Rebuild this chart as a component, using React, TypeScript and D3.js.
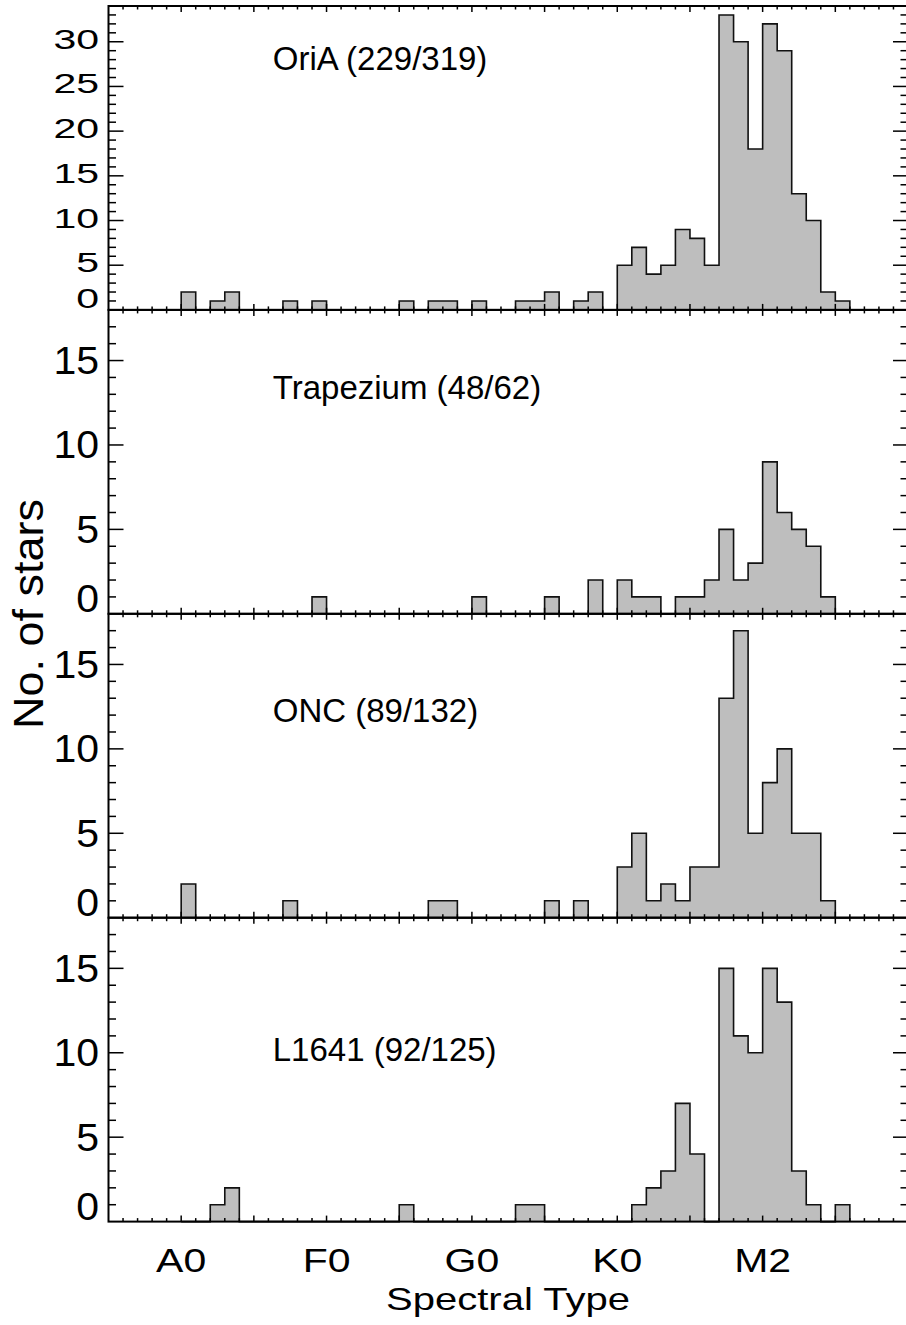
import React from 'react';
import * as d3 from 'd3';

// spectral subtype index: A0 = 0, F0 = 10, G0 = 20, K0 = 30, M0 = 38, M2 = 40
const subtypes = d3.range(0, 46);

const oriA = [2, 0, 1, 2, 0, 0, 0, 1, 0, 1, 0, 0, 0, 0, 0, 1, 0, 1, 1, 0, 1, 0, 0, 1, 1, 2, 0, 1, 2, 0, 5, 7, 4, 5, 9, 8, 5, 33, 30, 18, 32, 29, 13, 10, 2, 1];
const trapezium = [0, 0, 0, 0, 0, 0, 0, 0, 0, 1, 0, 0, 0, 0, 0, 0, 0, 0, 0, 0, 1, 0, 0, 0, 0, 1, 0, 0, 2, 0, 2, 1, 1, 0, 1, 1, 2, 5, 2, 3, 9, 6, 5, 4, 1, 0];
const onc = [2, 0, 0, 0, 0, 0, 0, 1, 0, 0, 0, 0, 0, 0, 0, 0, 0, 1, 1, 0, 0, 0, 0, 0, 0, 1, 0, 1, 0, 0, 3, 5, 1, 2, 1, 3, 3, 13, 17, 5, 8, 10, 5, 5, 1, 0];
const l1641 = [0, 0, 1, 2, 0, 0, 0, 0, 0, 0, 0, 0, 0, 0, 0, 1, 0, 0, 0, 0, 0, 0, 0, 1, 1, 0, 0, 0, 0, 0, 0, 1, 2, 3, 7, 4, 0, 15, 11, 10, 15, 13, 3, 1, 0, 1];

const panelNames = ['OriA (229/319)', 'Trapezium (48/62)', 'ONC (89/132)', 'L1641 (92/125)'];
const panelCounts = [oriA, trapezium, onc, l1641];
const yMax = [34, 18, 18, 18];
const yTicks = [
  [0, 5, 10, 15, 20, 25, 30],
  [0, 5, 10, 15],
  [0, 5, 10, 15],
  [0, 5, 10, 15],
];
const xTickValues = [0, 10, 20, 30, 40];
const xTickLabels = ['A0', 'F0', 'G0', 'K0', 'M2'];

// layout
const W = 906;
const H = 1325;
const left = 108.5;
const right = 908;
const top = 6;
const panelH = 303.9;
const labelAt = [26.8, 12.7, 11.6, 9.5];
const labelX = 6.3;
const font = '"Liberation Sans", Arial, Helvetica, sans-serif';

const x = d3.scaleLinear().domain([-5, 50]).range([left, right]);

const Panel: React.FC<{ p: number }> = ({ p }) => {
  const y0 = top + (p + 1) * panelH;
  const y1 = top + p * panelH;
  const y = d3.scaleLinear().domain([0, yMax[p]]).range([y0, y1]);
  const counts = panelCounts[p];

  // step outline of the histogram, closed along the baseline for the fill
  const pts: [number, number][] = [[x(0), y(0)]];
  subtypes.forEach((i) => {
    pts.push([x(i), y(counts[i])]);
    pts.push([x(i + 1), y(counts[i])]);
  });
  pts.push([x(subtypes.length), y(0)]);
  const outline = d3.line()(pts) as string;

  const xMinor = d3.range(-4, 50);
  const yMinor = d3.range(1, yMax[p]);
  const sy = p === 0 ? 0.66 : 0.95;

  return (
    <g>
      <path d={outline + 'Z'} fill="#bebebe" stroke="none" />
      <path d={outline} fill="none" stroke="#111" strokeWidth={1.6} />

      {xMinor.map((v) => {
        const len = v % 5 === 0 ? 6 : 3.5;
        return (
          <g key={v} stroke="#000" strokeWidth={1.5}>
            <line x1={x(v)} x2={x(v)} y1={y0} y2={y0 - len} />
            <line x1={x(v)} x2={x(v)} y1={y1} y2={y1 + len} />
          </g>
        );
      })}
      {yMinor.map((v) => {
        const len = v % 5 === 0 ? 15 : 7.5;
        return (
          <g key={v} stroke="#000" strokeWidth={1.5}>
            <line x1={left} x2={left + len} y1={y(v)} y2={y(v)} />
            <line x1={right} x2={right - len} y1={y(v)} y2={y(v)} />
          </g>
        );
      })}
      <rect x={left} y={y1} width={right - left} height={y0 - y1}
        fill="none" stroke="#000" strokeWidth={2} />

      {yTicks[p].map((v) => {
        const base = v === 0 ? y0 - 1.5 : y(v) + (p === 0 ? 7 : 13.5);
        return (
          <text key={v} transform={`translate(99,${base}) scale(1,${sy})`}
            textAnchor="end" fontSize={41} fontFamily={font} fill="#000">
            {v}
          </text>
        );
      })}

      <text x={x(labelX)} y={y(labelAt[p])} fontSize={33} fontFamily={font} fill="#000">
        {panelNames[p]}
      </text>
    </g>
  );
};

const App: React.FC = () => {
  const bottom = top + 4 * panelH;
  return (
    <svg width={W} height={H} viewBox={`0 0 ${W} ${H}`}
      style={{ position: 'absolute', left: 0, top: 0, background: '#fff' }}>
      <rect x={0} y={0} width={W} height={H} fill="#fff" />
      {panelNames.map((_, p) => <Panel key={p} p={p} />)}

      {xTickValues.map((v, i) => (
        <text key={v} transform={`translate(${x(v)},${bottom + 50}) scale(1,0.79)`}
          textAnchor="middle" fontSize={41} fontFamily={font} fill="#000">
          {xTickLabels[i]}
        </text>
      ))}
      <text transform={`translate(508,1310) scale(1,0.8)`} textAnchor="middle"
        fontSize={40} fontFamily={font} fill="#000">
        Spectral Type
      </text>
      <text transform={`translate(43,614) rotate(-90) scale(1,0.93)`} textAnchor="middle"
        fontSize={45} fontFamily={font} fill="#000">
        No. of stars
      </text>
    </svg>
  );
};

export default App;
